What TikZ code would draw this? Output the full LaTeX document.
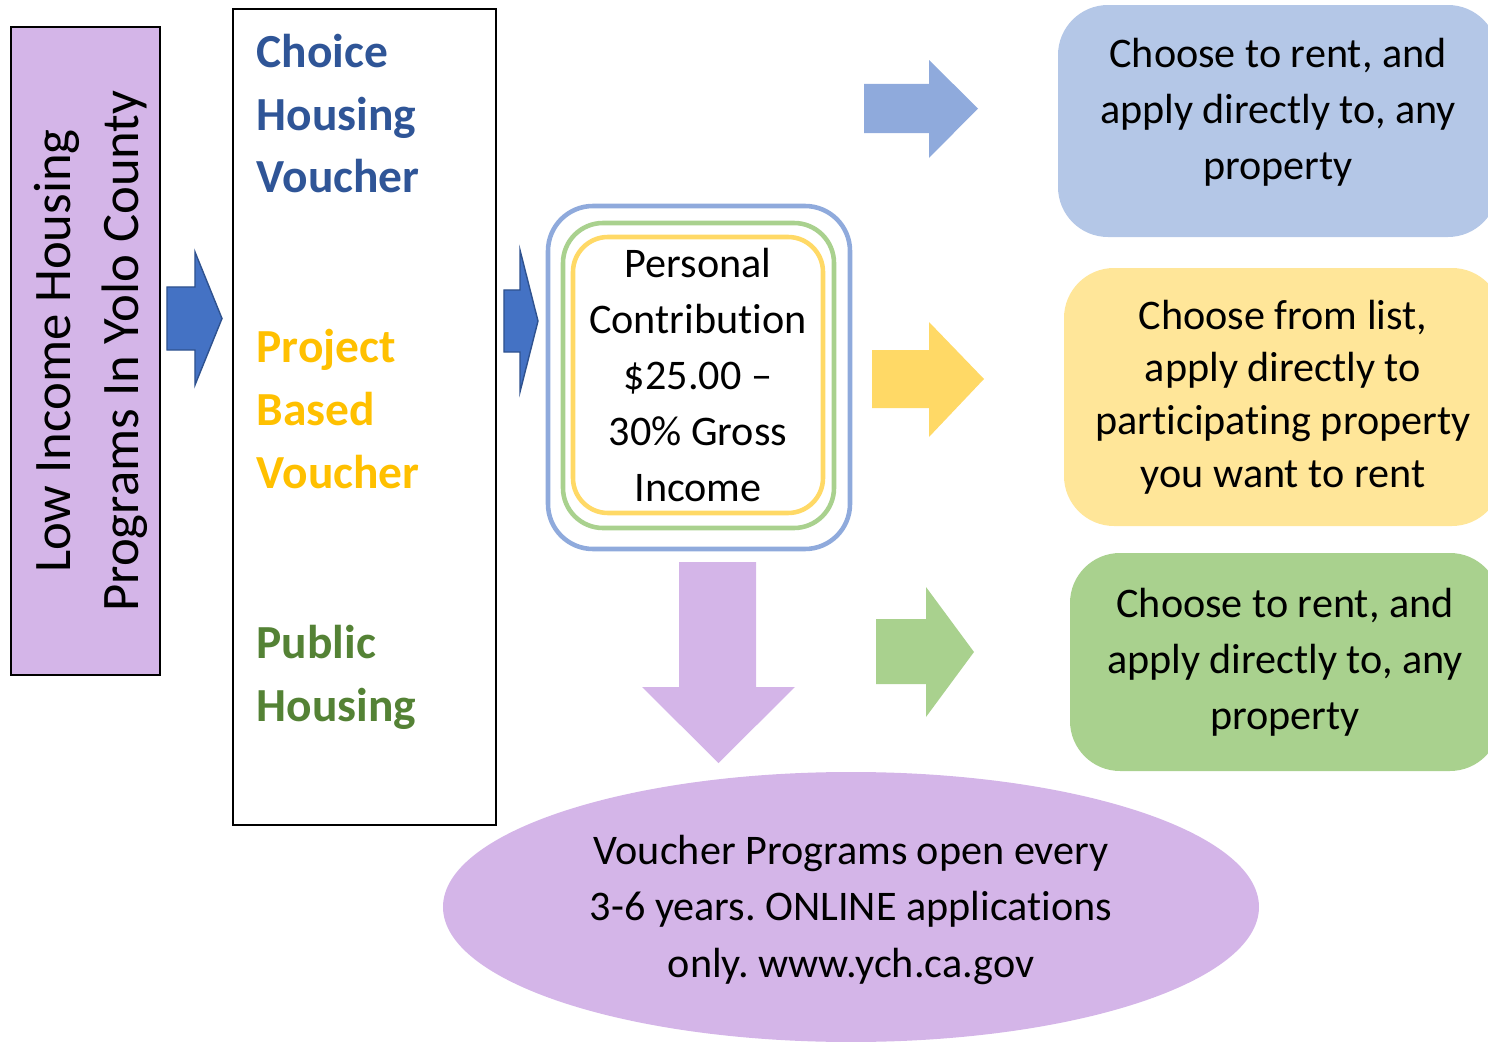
\documentclass[tikz,border=0pt]{standalone}
\usepackage{fontspec}
\setmainfont{Carlito}[RawFeature={-liga;-clig;-calt;-dlig}]
\usetikzlibrary{shapes.geometric}
\definecolor{lilac}{RGB}{212,181,232}
\definecolor{darkblue}{HTML}{4472C4}
\definecolor{edgeblue}{HTML}{2F528F}
\definecolor{skyblue}{HTML}{8FAADC}
\definecolor{paleblue}{HTML}{B4C7E7}
\definecolor{sun}{HTML}{FFD966}
\definecolor{paleyellow}{HTML}{FFE699}
\definecolor{leaf}{HTML}{A9D18E}
\definecolor{hcvtext}{HTML}{2F5597}
\definecolor{pbvtext}{HTML}{FFC000}
\definecolor{phtext}{HTML}{548235}
\frenchspacing

\begin{document}
\begin{tikzpicture}[
  bigarrow/.style={fill=#1},
  program/.style={anchor=base west,inner sep=0,align=left,text=#1,font=\bfseries\fontsize{13.5}{17.9}\selectfont},
  option/.style={rounded corners=0.5cm,fill=#1,inner sep=0,align=center,font=\fontsize{12}{16}\selectfont},
  ring/.style={draw=#1,line width=1.3pt,rounded corners=0.4cm,inner sep=0}]
\useasboundingbox (0,0) rectangle (14.88,-10.42);
\clip (0,0) rectangle (14.88,-10.42);
% left column
\node[draw,line width=0.8pt,fill=lilac,minimum width=1.49cm,minimum height=6.48cm] at (0.855,-3.51) (title) {};
\node[rotate=90,align=center,font=\fontsize{15}{19.5}\selectfont] at (0.91,-3.51) (titletext) {Low Income Housing\\Programs In Yolo County};
\node[draw,line width=0.8pt,minimum width=2.63cm,minimum height=8.16cm] at (3.645,-4.17) (programs) {};
\node[program=hcvtext] at (2.56,-1.93) (hcv) {Choice\\Housing\\Voucher};
\node[program=pbvtext] at (2.56,-4.88) (pbv) {Project\\Based\\Voucher};
\node[program=phtext] at (2.56,-7.21) (ph) {Public\\Housing};
\fill[bigarrow=darkblue,draw=edgeblue,line width=0.4pt] (1.67,-2.87) -- (1.95,-2.87) -- (1.95,-2.52) -- (2.22,-3.185) -- (1.95,-3.85) -- (1.95,-3.50) -- (1.67,-3.50) -- cycle;
\fill[bigarrow=darkblue,draw=edgeblue,line width=0.4pt] (5.04,-2.90) -- (5.20,-2.90) -- (5.20,-2.50) -- (5.38,-3.21) -- (5.20,-3.92) -- (5.20,-3.52) -- (5.04,-3.52) -- cycle;
% contribution
\node[ring=sun,rounded corners=0.35cm,minimum width=2.50cm,minimum height=2.76cm,align=center,font=\fontsize{12}{15.9}\selectfont] at (6.98,-3.75) (income) {Personal\\Contribution\\\$25.00 --\\30\% Gross\\Income};
\node[ring=leaf,minimum width=2.71cm,minimum height=3.05cm] at (6.985,-3.755) (incomeg) {};
\node[ring=skyblue,rounded corners=0.45cm,minimum width=3.02cm,minimum height=3.43cm] at (6.99,-3.775) (incomeb) {};
% choices
\fill[bigarrow=skyblue] (8.64,-0.84) -- (9.29,-0.84) -- (9.29,-0.60) -- (9.78,-1.085) -- (9.29,-1.58) -- (9.29,-1.33) -- (8.64,-1.33) -- cycle;
\fill[bigarrow=sun] (8.72,-3.50) -- (9.29,-3.50) -- (9.29,-3.22) -- (9.84,-3.79) -- (9.29,-4.37) -- (9.29,-4.08) -- (8.72,-4.08) -- cycle;
\fill[bigarrow=leaf] (8.76,-6.19) -- (9.26,-6.19) -- (9.26,-5.87) -- (9.74,-6.52) -- (9.26,-7.17) -- (9.26,-6.84) -- (8.76,-6.84) -- cycle;
\node[option=paleblue,minimum width=4.40cm,minimum height=2.32cm,text depth=7pt] at (12.78,-1.21) (anyrent) {Choose to rent, and\\apply directly to, any\\property};
\node[option=paleyellow,minimum width=4.38cm,minimum height=2.58cm,font=\fontsize{12}{15}\selectfont] at (12.83,-3.97) (listrent) {Choose from list,\\apply directly to\\participating property\\you want to rent};
\node[option=leaf,minimum width=4.30cm,minimum height=2.18cm] at (12.85,-6.62) (phrent) {Choose to rent, and\\apply directly to, any\\property};
% waiting list
\fill[bigarrow=lilac] (6.79,-5.62) -- (7.56,-5.62) -- (7.56,-6.87) -- (7.95,-6.87) -- (7.185,-7.63) -- (6.42,-6.87) -- (6.79,-6.87) -- cycle;
\node[ellipse,fill=lilac,inner sep=0,minimum width=8.16cm,minimum height=2.70cm,align=center,font=\fontsize{12}{16}\selectfont,text height=42pt] at (8.51,-9.07) (apply) {Voucher Programs open every\\3-6 years. ONLINE applications\\only. www.ych.ca.gov};
\end{tikzpicture}
\end{document}
